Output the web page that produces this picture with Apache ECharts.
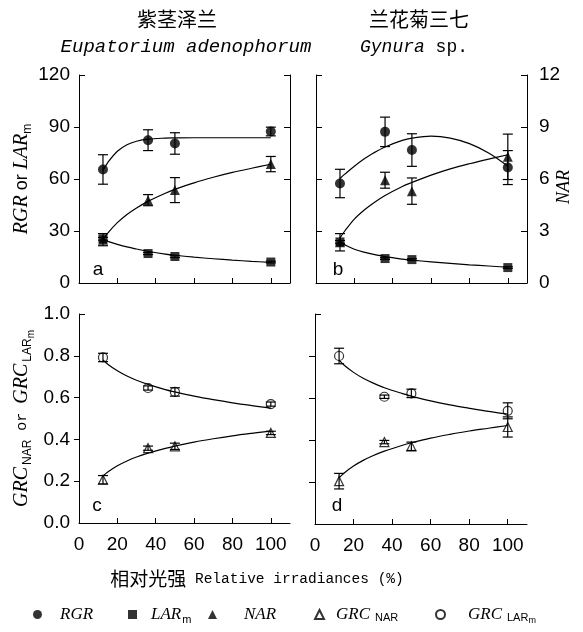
<!DOCTYPE html>
<html><head><meta charset="utf-8">
<script src="https://cdn.jsdelivr.net/npm/echarts@6/dist/echarts.min.js"></script>
<style>html,body{margin:0;padding:0;background:#fff}#c{width:583px;height:632px}</style>
</head><body><div id="c"></div>
<script>
// ---- data ----
const irradiance = [12.5, 36, 50, 100];
const curveX = [12.5, 15, 20, 25, 30, 36, 45, 50, 60, 70, 80, 90, 100];
const xTickValues = [20, 40, 60, 80, 100];
const xLabelValues = [0, 20, 40, 60, 80, 100];

// panel a: Eupatorium adenophorum
const aRGR = [65.5, 82.4, 80.5, 87.4];      const aRGRErr = [8.5, 6, 6.2, 2.5];
const aLAR = [25.5, 17, 15.3, 12.1];        const aLARErr = [0.8, 0.6, 0.6, 0.5];
const aNAR = [2.5, 4.78, 5.36, 6.86];       const aNARErr = [0.35, 0.32, 0.72, 0.44];
const aRGRCurve = [65, 69.5, 76, 79.8, 81.8, 83, 83.6, 83.7, 83.8, 83.8, 83.8, 83.8, 83.8];
const aLARCurve = [25, 24, 22.3, 20.8, 19.6, 18.3, 16.7, 16, 14.9, 14, 13.2, 12.5, 11.9];
const aNARCurve = [2.5, 2.88, 3.48, 3.95, 4.33, 4.71, 5.18, 5.4, 5.78, 6.1, 6.38, 6.62, 6.85];

// panel b: Gynura sp.
const bRGR = [57.4, 87.2, 76.7, 66.6];      const bRGRErr = [8.2, 8.5, 9.4, 9.8];
const bLAR = [23.7, 14.1, 13.5, 8.9];       const bLARErr = [0.8, 0.5, 0.5, 0.5];
const bNAR = [2.35, 5.93, 5.3, 7.28];       const bNARErr = [0.5, 0.46, 0.76, 1.31];
const bRGRCurve = [60.3, 62.8, 67.4, 71.5, 75, 78.5, 82.3, 83.6, 84.7, 83.6, 80.4, 75, 67.4];
const bLARCurve = [23.5, 22, 19.5, 17.8, 16.5, 15.2, 13.8, 13.2, 12.2, 11.3, 10.5, 9.8, 9.1];
const bNARCurve = [2.6, 3.0, 3.69, 4.2, 4.62, 5.05, 5.57, 5.8, 6.22, 6.58, 6.88, 7.15, 7.4];

// panel c: Eupatorium adenophorum
const cGRCLAR = [0.792, 0.646, 0.627, 0.569]; const cGRCLARErr = [0.02, 0.01, 0.02, 0.01];
const cGRCNAR = [0.207, 0.358, 0.367, 0.431]; const cGRCNARErr = [0.02, 0.01, 0.015, 0.008];
const cGRCLARCurve = [0.78, 0.76, 0.728, 0.703, 0.683, 0.663, 0.638, 0.627, 0.607, 0.59, 0.575, 0.562, 0.55];
const cGRCNARCurve = [0.225, 0.244, 0.274, 0.297, 0.316, 0.334, 0.357, 0.368, 0.387, 0.403, 0.417, 0.429, 0.44];

// panel d: Gynura sp.
const dGRCLAR = [0.80, 0.606, 0.622, 0.539]; const dGRCLARErr = [0.037, 0.008, 0.02, 0.038];
const dGRCNAR = [0.204, 0.39, 0.37, 0.462];  const dGRCNARErr = [0.037, 0.008, 0.02, 0.048];
const dGRCLARCurve = [0.78, 0.757, 0.722, 0.694, 0.672, 0.649, 0.622, 0.609, 0.586, 0.567, 0.551, 0.536, 0.523];
const dGRCNARCurve = [0.22, 0.242, 0.276, 0.303, 0.325, 0.347, 0.374, 0.387, 0.409, 0.427, 0.443, 0.456, 0.469];

// ---- styling helpers ----
const K = '#000';
const SANS = 'Liberation Sans', SERIF = 'Liberation Serif', MONO = 'Liberation Mono';
const labelStyle = { color: K, fontFamily: SANS, fontSize: 19 };

function xAxis(grid, showLabels) {
  return {
    type: 'value', gridIndex: grid, min: 0, max: 110, interval: 20,
    axisLine: { show: true, onZero: false, lineStyle: { color: K, width: 1 } },
    axisTick: { show: true, inside: true, length: 5, customValues: xTickValues, lineStyle: { color: K } },
    axisLabel: Object.assign({ show: showLabels, customValues: xLabelValues, margin: 12,
      formatter: v => (v > 100 ? '' : String(v)) }, labelStyle),
    splitLine: { show: false }
  };
}
function yAxis(o) {
  const base = {
    type: 'value', splitLine: { show: false }, nameMoveOverlap: false,
    axisLine: { show: true, onZero: false, lineStyle: { color: K, width: 1 } },
    axisLabel: Object.assign({ show: false, margin: 9 }, labelStyle)
  };
  const r = Object.assign(base, o);
  if (o.axisLabel) r.axisLabel = Object.assign({}, base.axisLabel, labelStyle, o.axisLabel);
  return r;
}
const tickStyle = { color: K, width: 1 };

const nameRichTop = {
  i: { fontFamily: SERIF, fontStyle: 'italic', fontSize: 20, lineHeight: 24, verticalAlign: 'middle', color: K },
  o: { fontFamily: SANS, fontSize: 18, lineHeight: 24, verticalAlign: 'middle', color: K },
  s: { fontFamily: SANS, fontSize: 12, lineHeight: 12, verticalAlign: 'bottom', color: K }
};
const nameRichBottom = {
  i: { fontFamily: SERIF, fontStyle: 'italic', fontSize: 20, lineHeight: 28, verticalAlign: 'middle', color: K },
  o: { fontFamily: MONO, fontSize: 15, lineHeight: 28, verticalAlign: 'middle', color: K },
  s: { fontFamily: SANS, fontSize: 12, lineHeight: 12, padding: [0, 0, 2, 2], verticalAlign: 'bottom', color: K },
  s2: { fontFamily: SANS, fontSize: 12, lineHeight: 12, padding: [0, 0, 2, 2], verticalAlign: 'bottom', color: K },
  ss: { fontFamily: SANS, fontSize: 10, lineHeight: 10, verticalAlign: 'bottom', color: K }
};

const yAxes = [
  // 0: a left
  yAxis({ gridIndex: 0, position: 'left', min: 0, max: 120, interval: 30,
    axisTick: { show: true, inside: false, length: 5, customValues: [30, 60, 90], lineStyle: tickStyle },
    axisLabel: { show: true, margin: 9 },
    name: '{i|RGR}{o| or }{i|LAR}{s|m}', nameLocation: 'middle', nameGap: 45,
    nameTextStyle: { rich: nameRichTop } }),
  // 1: a left top tick
  yAxis({ gridIndex: 0, position: 'left', min: 0, max: 120, interval: 30, axisLine: { show: false },
    axisTick: { show: true, inside: true, length: 6, customValues: [120], lineStyle: tickStyle } }),
  // 2: a right (NAR scale)
  yAxis({ gridIndex: 0, position: 'right', min: 0, max: 12, interval: 3,
    axisTick: { show: true, inside: true, length: 6, customValues: [3, 6, 9, 12], lineStyle: tickStyle } }),
  // 3: b left
  yAxis({ gridIndex: 1, position: 'left', min: 0, max: 120, interval: 30,
    axisTick: { show: true, inside: true, length: 6, customValues: [30, 60, 90, 120], lineStyle: tickStyle } }),
  // 4: b right (NAR)
  yAxis({ gridIndex: 1, position: 'right', min: 0, max: 12, interval: 3,
    axisTick: { show: true, inside: true, length: 6, customValues: [3, 6, 9, 12], lineStyle: tickStyle },
    axisLabel: { show: true, margin: 12 },
    name: 'NAR', nameLocation: 'middle', nameGap: 26,
    nameTextStyle: { fontFamily: SERIF, fontStyle: 'italic', fontSize: 18, lineHeight: 22, color: K, padding: [0, 16, 0, 0] } }),
  // 5: c left
  yAxis({ gridIndex: 2, position: 'left', min: 0, max: 1, interval: 0.2,
    axisTick: { show: true, inside: false, length: 5, customValues: [0.2, 0.4, 0.6, 0.8], lineStyle: tickStyle },
    axisLabel: { show: true, margin: 9, formatter: v => v.toFixed(1) },
    name: '{i|GRC}{s|NAR}{o| or }{i|GRC}{s2|LAR}{ss|m}', nameLocation: 'middle', nameGap: 43,
    nameTextStyle: { rich: nameRichBottom } }),
  // 6: c left top tick
  yAxis({ gridIndex: 2, position: 'left', min: 0, max: 1, interval: 0.2, axisLine: { show: false },
    axisTick: { show: true, inside: true, length: 6, customValues: [1], lineStyle: tickStyle } }),
  // 7: d left
  yAxis({ gridIndex: 3, position: 'left', min: 0, max: 1, interval: 0.2,
    axisTick: { show: true, inside: false, length: 6, customValues: [0.2, 0.4, 0.6, 0.8], lineStyle: tickStyle } }),
  // 8: d left top tick
  yAxis({ gridIndex: 3, position: 'left', min: 0, max: 1, interval: 0.2, axisLine: { show: false },
    axisTick: { show: true, inside: true, length: 6, customValues: [1], lineStyle: tickStyle } })
];

const symbols = {
  'RGR': { symbol: 'circle', symbolSize: 10, itemStyle: { color: K } },
  'LARm': { symbol: 'rect', symbolSize: 9, itemStyle: { color: K } },
  'NAR': { symbol: 'triangle', symbolSize: 10, itemStyle: { color: K } },
  'GRC_NAR': { symbol: 'triangle', symbolSize: 9, itemStyle: { color: 'rgba(0,0,0,0)', borderColor: K, borderWidth: 1.2 } },
  'GRC_LARm': { symbol: 'circle', symbolSize: 9, itemStyle: { color: 'rgba(0,0,0,0)', borderColor: K, borderWidth: 1.2 } }
};

const series = [];
function addSet(name, xi, yi, vals, errs, curve) {
  series.push({
    type: 'line', xAxisIndex: xi, yAxisIndex: yi, silent: true, z: 2,
    data: curveX.map((x, i) => [x, curve[i]]), smooth: 0.35, symbol: 'none', showSymbol: false,
    lineStyle: { color: K, width: 1.2 }
  });
  series.push({
    type: 'custom', xAxisIndex: xi, yAxisIndex: yi, silent: true, z: 3,
    data: irradiance.map((x, i) => [x, vals[i] - errs[i], vals[i] + errs[i]]),
    encode: { x: 0, y: [1, 2] },
    renderItem: function (params, api) {
      const x = api.value(0);
      const lo = api.coord([x, api.value(1)]);
      const hi = api.coord([x, api.value(2)]);
      const w = 5, st = { stroke: K, lineWidth: 1.2 };
      return { type: 'group', children: [
        { type: 'line', shape: { x1: lo[0], y1: lo[1], x2: hi[0], y2: hi[1] }, style: st },
        { type: 'line', shape: { x1: lo[0] - w, y1: lo[1], x2: lo[0] + w, y2: lo[1] }, style: st },
        { type: 'line', shape: { x1: hi[0] - w, y1: hi[1], x2: hi[0] + w, y2: hi[1] }, style: st }
      ] };
    }
  });
  series.push(Object.assign({
    type: 'scatter', name: name, xAxisIndex: xi, yAxisIndex: yi, z: 4,
    data: irradiance.map((x, i) => [x, vals[i]])
  }, symbols[name]));
}
addSet('NAR', 0, 2, aNAR, aNARErr, aNARCurve);
addSet('RGR', 0, 0, aRGR, aRGRErr, aRGRCurve);
addSet('LARm', 0, 0, aLAR, aLARErr, aLARCurve);
addSet('NAR', 1, 4, bNAR, bNARErr, bNARCurve);
addSet('RGR', 1, 3, bRGR, bRGRErr, bRGRCurve);
addSet('LARm', 1, 3, bLAR, bLARErr, bLARCurve);
addSet('GRC_LARm', 2, 5, cGRCLAR, cGRCLARErr, cGRCLARCurve);
addSet('GRC_NAR', 2, 5, cGRCNAR, cGRCNARErr, cGRCNARCurve);
addSet('GRC_LARm', 3, 7, dGRCLAR, dGRCLARErr, dGRCLARCurve);
addSet('GRC_NAR', 3, 7, dGRCNAR, dGRCNARErr, dGRCNARCurve);

// legends (one per entry so each can be placed like the figure)
function legendRich(pad) {
  return {
    i: { fontFamily: SERIF, fontStyle: 'italic', fontSize: 17, lineHeight: 22, verticalAlign: 'middle', color: K, padding: [0, 0, 0, pad] },
    s: { fontFamily: SANS, fontSize: 11, lineHeight: 11, verticalAlign: 'bottom', color: K, padding: [0, 0, 0, 1] },
    s2: { fontFamily: SANS, fontSize: 11, lineHeight: 11, verticalAlign: 'bottom', color: K, padding: [0, 0, 2, 5] },
    ss: { fontFamily: SANS, fontSize: 9, lineHeight: 9, verticalAlign: 'bottom', color: K }
  };
}
const legendEntries = [
  { name: 'RGR', left: 33, pad: 13, text: '{i|RGR}' },
  { name: 'LARm', left: 128, pad: 9, text: '{i|LAR}{s|m}' },
  { name: 'NAR', left: 208, pad: 22, text: '{i|NAR}' },
  { name: 'GRC_NAR', left: 314, pad: 7, text: '{i|GRC}{s2|NAR}' },
  { name: 'GRC_LARm', left: 435, pad: 18, text: '{i|GRC}{s2|LAR}{ss|m}' }
];
const legends = legendEntries.map(e => ({
  data: [e.name], left: e.left, top: 606, padding: 0, itemWidth: 9, itemHeight: 9,
  selectedMode: false, formatter: () => e.text,
  textStyle: { rich: legendRich(e.pad) }
}));

function txt(x, y, text, font, rich) {
  const style = { text: text, fill: K, align: 'center', verticalAlign: 'middle', textAlign: 'center', textVerticalAlign: 'middle' };
  if (font) style.font = font;
  if (rich) style.rich = rich;
  return { type: 'text', x: x, y: y, silent: true, style: style };
}

const option = {
  animation: false,
  backgroundColor: '#fff',
  textStyle: { fontFamily: SANS, color: K },
  grid: [
    { left: 79, top: 75, width: 211, height: 208, outerBoundsMode: 'none' },
    { left: 316, top: 75, width: 211, height: 208, outerBoundsMode: 'none' },
    { left: 79, top: 314, width: 211, height: 209, outerBoundsMode: 'none' },
    { left: 315, top: 314, width: 212, height: 210, outerBoundsMode: 'none' }
  ],
  xAxis: [xAxis(0, false), xAxis(1, false), xAxis(2, true), xAxis(3, true)],
  yAxis: yAxes,
  legend: legends,
  series: series,
  graphic: [
    txt(177, 19, '紫茎泽兰', '20px "Noto Sans CJK SC"'),
    txt(186, 47, 'Eupatorium adenophorum', 'italic 19px "Liberation Mono"'),
    txt(419, 19, '兰花菊三七', '20px "Noto Sans CJK SC"'),
    txt(414, 47, '{i|Gynura}{n| sp.}', null, {
      i: { fontFamily: MONO, fontStyle: 'italic', fontSize: 18, color: K },
      n: { fontFamily: MONO, fontSize: 18, color: K } }),
    txt(257, 579, '{c|相对光强}{m| Relative irradiances (%)}', null, {
      c: { fontFamily: 'Noto Sans CJK SC', fontSize: 19, color: K },
      m: { fontFamily: MONO, fontSize: 14.5, color: K } }),
    txt(98, 270, 'a', '19px "Liberation Sans"'),
    txt(338, 270, 'b', '19px "Liberation Sans"'),
    txt(97, 506, 'c', '19px "Liberation Sans"'),
    txt(337, 506, 'd', '19px "Liberation Sans"')
  ]
};

const chart = echarts.init(document.getElementById('c'), null, { renderer: 'canvas' });
chart.setOption(option);
</script>
</body></html>
